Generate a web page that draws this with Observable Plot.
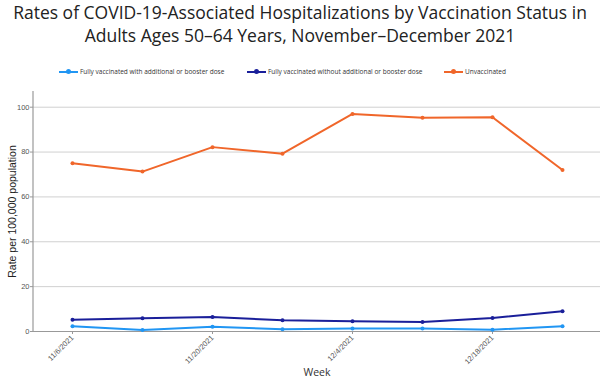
<!DOCTYPE html>
<html><head><meta charset="utf-8">
<script src="https://cdn.jsdelivr.net/npm/d3@7"></script>
<script src="https://cdn.jsdelivr.net/npm/@observablehq/plot@0.6"></script>
<style>
body{margin:0;background:#fff;font-family:"Open Sans",sans-serif;width:600px;height:381px;overflow:hidden}
#title{text-align:center;font-size:17.5px;line-height:23px;color:#222;padding-top:1px;height:48px}
#legend{height:36px;position:relative;font-size:6.5px;color:#333}
.li{position:absolute;top:18px;display:flex;align-items:center;white-space:nowrap}
.sw{width:19px;height:2px;position:relative;margin-right:2px}
.sw i{position:absolute;left:7px;top:-1.5px;width:5px;height:5px;border-radius:50%}
</style></head><body>
<div id="title">Rates of COVID-19-Associated Hospitalizations by Vaccination Status in<br>Adults Ages 50–64 Years, November–December 2021</div>
<div id="legend"></div>
<div id="chart"></div>
<script>
const weeks = ["11/6/2021","11/13/2021","11/20/2021","11/27/2021","12/4/2021","12/11/2021","12/18/2021","12/25/2021"];
const tickLabels = ["11/6/2021","11/20/2021","12/4/2021","12/18/2021"];
const seriesNames = ["Fully vaccinated with additional or booster dose","Fully vaccinated without additional or booster dose","Unvaccinated"];
const colors = ["#2196f3","#1a1f9a","#f0662a"];
const booster = [2.3, 0.7, 2.1, 1.0, 1.3, 1.3, 0.8, 2.3];
const noBooster = [5.2, 5.9, 6.5, 5.0, 4.6, 4.2, 6.0, 9.0];
const unvaccinated = [75.0, 71.3, 82.2, 79.3, 97.0, 95.3, 95.5, 72.0];

const data = [];
[booster, noBooster, unvaccinated].forEach((vals, si) => vals.forEach((v, i) => data.push({week: weeks[i], series: seriesNames[si], value: v})));

const legend = document.getElementById("legend");
const lx = [59, 247, 444];
seriesNames.forEach((n, i) => {
  const d = document.createElement("div");
  d.className = "li"; d.style.left = lx[i] + "px";
  d.innerHTML = `<span class="sw" style="background:${colors[i]}"><i style="background:${colors[i]}"></i></span>${n}`;
  legend.appendChild(d);
});

const chart = Plot.plot({
  width: 600, height: 296,
  marginLeft: 33, marginRight: 0, marginTop: 6, marginBottom: 50,
  style: {fontFamily: "Liberation Sans, Arial, sans-serif", fontSize: "7px", color: "#444", background: "#fff"},
  x: {type: "point", domain: weeks, padding: 0.55, label: null},
  y: {domain: [0, 107], label: null},
  color: {domain: seriesNames, range: colors},
  marks: [
    Plot.gridY([0,20,40,60,80,100], {stroke: "#d0d0d0", strokeOpacity: 1, strokeWidth: 1}),
    Plot.axisY({ticks: [0,20,40,60,80,100], tickSize: 3, tickPadding: 1, stroke: "#999", fill: "#555", fontSize: 7.5}),
    Plot.axisX({ticks: tickLabels, tickSize: 3, tickRotate: -45, tickPadding: 2, stroke: "#999", fill: "#555", fontSize: 7.5}),
    Plot.ruleY([0], {stroke: "#999", strokeWidth: 1.2}),
    Plot.line(data, {x: "week", y: "value", stroke: "series", strokeWidth: 2}),
    Plot.dot(data, {x: "week", y: "value", fill: "series", r: 2}),
    Plot.text(["Week"], {frameAnchor: "bottom", dy: 44, fontSize: 10.5, fill: "#333", fontFamily: "Open Sans, sans-serif", text: d => d}),
    Plot.text(["Rate per 100,000 population"], {frameAnchor: "left", textAnchor: "middle", dx: -21, rotate: -90, fontSize: 10.5, fill: "#222", text: d => d})
  ]
});
document.getElementById("chart").appendChild(chart);
const svg = d3.select(chart);
svg.append("line").attr("x1", 33).attr("x2", 33).attr("y1", 6).attr("y2", 246).attr("stroke", "#999").attr("stroke-width", 1.2);
</script>
</body></html>
